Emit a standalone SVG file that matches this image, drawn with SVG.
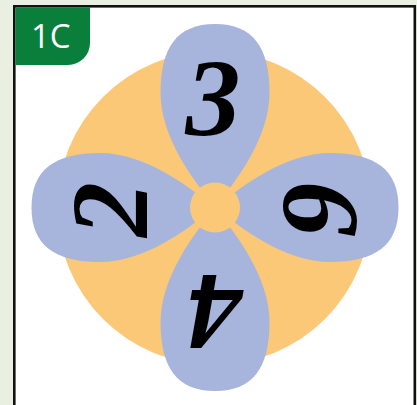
<svg xmlns="http://www.w3.org/2000/svg" width="417" height="405" viewBox="0 0 417 405">
<defs>
<style>
.petal{fill:#a7b5dd}
.orange{fill:#fbc878}
.digit{font-family:"Liberation Serif","Times New Roman",serif;font-weight:bold;font-style:italic;font-size:110px;fill:#000;text-anchor:middle}
.tab-label{font-family:"Open Sans","Liberation Sans",sans-serif;font-size:33px;font-weight:400;fill:#fff}
</style>
<path id="petal" d="M0 0 C22 -28 54.5 -70 54.5 -115 C54.5 -160 38 -183.5 0 -183.5 C-38 -183.5 -54.5 -160 -54.5 -115 C-54.5 -70 -22 -28 0 0 Z"/>
</defs>
<rect x="0" y="0" width="417" height="405" fill="#e9f0e2"/>
<rect x="14.3" y="6.3" width="400.5" height="420" fill="#fff" stroke="#111" stroke-width="2.6"/>
<g id="tab">
<path d="M15.6 7.6 H90 V43 A22 22 0 0 1 68 65 H15.6 Z" fill="#0a7f3c"/>
<text class="tab-label" x="31" y="47.5">1C</text>
</g>
<g id="disc">
<circle class="orange" cx="214" cy="208" r="157"/>
</g>
<g id="petals">
<use href="#petal" class="petal" transform="translate(215,207.5)"/>
<use href="#petal" class="petal" transform="translate(215,207.5) rotate(90)"/>
<use href="#petal" class="petal" transform="translate(215,207.5) rotate(180)"/>
<use href="#petal" class="petal" transform="translate(215,207.5) rotate(270)"/>
</g>
<g id="hub">
<circle class="orange" cx="215" cy="207.5" r="25"/>
</g>
<g id="n3"><text class="digit" transform="translate(213,97.5)" x="0" y="37">3</text></g>
<g id="n2"><text class="digit" transform="translate(109.5,209.5) rotate(-90)" x="0" y="37">2</text></g>
<g id="n6"><text class="digit" transform="translate(320.5,208.5) rotate(90)" x="0" y="37">6</text></g>
<g id="n4"><text class="digit" transform="translate(214.5,312) rotate(180)" x="0" y="37">4</text></g>
</svg>
